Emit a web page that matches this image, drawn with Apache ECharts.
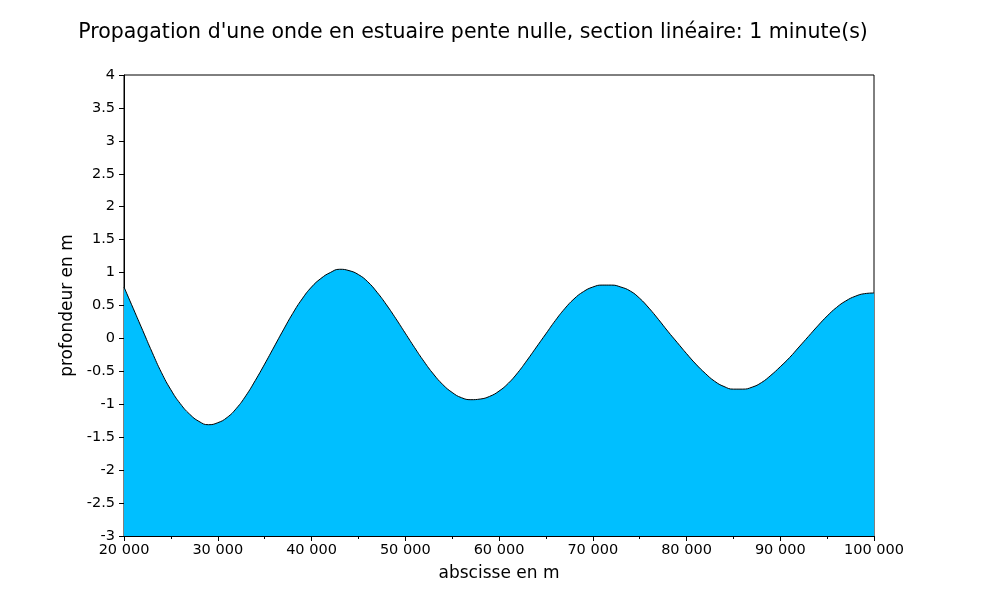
<!DOCTYPE html>
<html>
<head>
<meta charset="utf-8">
<script src="https://cdn.jsdelivr.net/npm/echarts@6/dist/echarts.min.js"></script>
<style>html,body{margin:0;padding:0;background:#fff;}#c{width:1000px;height:614px;}</style>
</head>
<body>
<div id="c"></div>
<script>
const titleText = "Propagation d'une onde en estuaire pente nulle, section linéaire: 1 minute(s)";
const xName = "abscisse en m";
const yName = "profondeur en m";
const xPos = [20000,21000,22000,23000,24000,25000,26000,27000,28000,29000,
  30000,31000,32000,33000,34000,35000,36000,37000,38000,39000,
  40000,41000,42000,43000,44000,45000,46000,47000,48000,49000,
  50000,51000,52000,53000,54000,55000,56000,57000,58000,59000,
  60000,61000,62000,63000,64000,65000,66000,67000,68000,69000,
  70000,71000,72000,73000,74000,75000,76000,77000,78000,79000,
  80000,81000,82000,83000,84000,85000,86000,87000,88000,89000,
  90000,91000,92000,93000,94000,95000,96000,97000,98000,99000,100000];
const depth = [0.78,0.45,0.12,-0.21,-0.52,-0.78,-0.99,-1.15,-1.26,-1.31,
  -1.28,-1.20,-1.06,-0.87,-0.64,-0.39,-0.13,0.13,0.38,0.60,
  0.78,0.91,1.00,1.05,1.03,0.97,0.86,0.70,0.51,0.30,
  0.08,-0.14,-0.35,-0.54,-0.70,-0.82,-0.90,-0.93,-0.92,-0.88,
  -0.80,-0.68,-0.52,-0.33,-0.13,0.07,0.27,0.45,0.60,0.71,
  0.78,0.81,0.81,0.78,0.72,0.61,0.46,0.29,0.11,-0.06,
  -0.23,-0.39,-0.53,-0.65,-0.73,-0.77,-0.77,-0.74,-0.67,-0.56,
  -0.43,-0.29,-0.13,0.03,0.19,0.34,0.47,0.57,0.64,0.68,0.69];

const font = "DejaVu Sans";
const chart = echarts.init(document.getElementById('c'), null, {renderer:'canvas'});
chart.setOption({
  backgroundColor:'#ffffff',
  animation:false,
  title:{text:titleText,left:468,top:17,textAlign:'center',
    textStyle:{fontFamily:font,fontSize:20.5,fontWeight:'normal',color:'#000'}},
  grid:{left:124,right:126,top:75,bottom:78,show:true,borderColor:'#000',borderWidth:1,backgroundColor:'transparent'},
  xAxis:{type:'value',min:20000,max:100000,interval:10000,
    name:xName,nameLocation:'middle',nameGap:29,
    nameTextStyle:{fontFamily:font,fontSize:17,color:'#000'},
    axisLine:{onZero:false,lineStyle:{color:'#000',width:1}},
    axisTick:{inside:false,length:5,lineStyle:{color:'#000'}},
    minorTick:{show:true,splitNumber:2,length:3,lineStyle:{color:'#000'}},
    splitLine:{show:false},
    axisLabel:{fontFamily:font,fontSize:14.5,color:'#000',margin:7,
      formatter:v=>String(v).replace(/\B(?=(\d{3})+(?!\d))/g,' ')}},
  yAxis:{type:'value',min:-3,max:4,interval:0.5,
    name:yName,nameLocation:'middle',nameGap:46,
    nameTextStyle:{fontFamily:font,fontSize:17,color:'#000'},
    axisLine:{show:true,onZero:false,lineStyle:{color:'#000',width:1}},
    axisTick:{show:true,inside:false,length:5,lineStyle:{color:'#000'}},
    splitLine:{show:false},
    axisLabel:{fontFamily:font,fontSize:14.5,color:'#000',margin:9}},
  series:[{type:'line',data:xPos.map((x,i)=>[x,depth[i]]),
    smooth:true,showSymbol:false,
    lineStyle:{color:'#000',width:1},
    areaStyle:{color:'#00BFFF',opacity:1,origin:'start'}}]
});
</script>
</body>
</html>
